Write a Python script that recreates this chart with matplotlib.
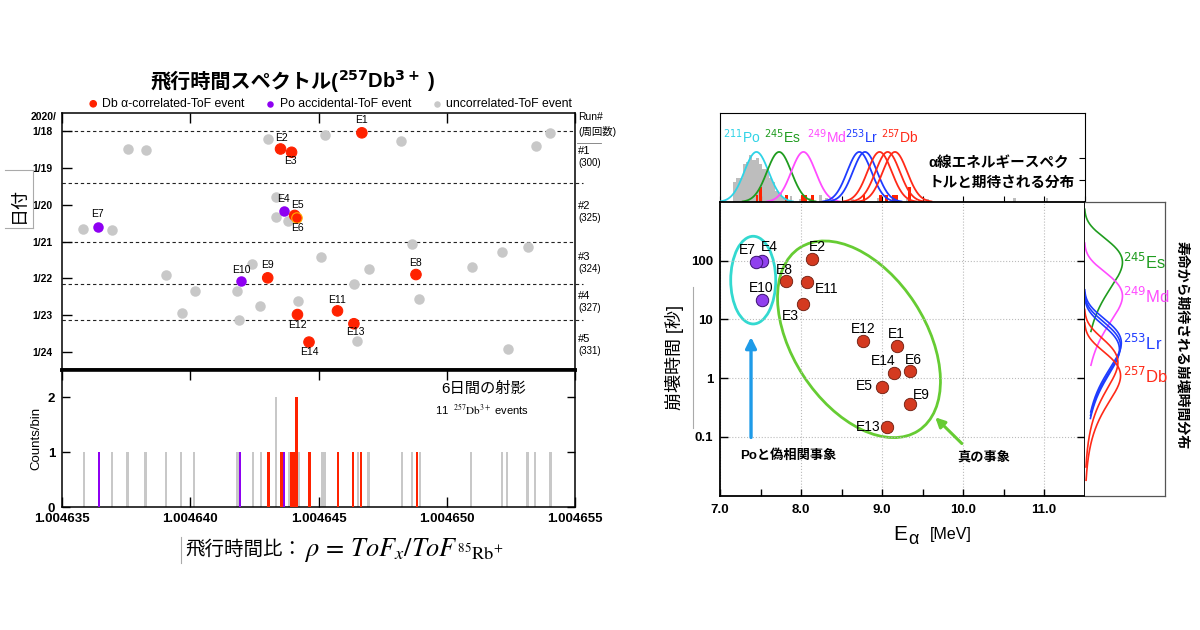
import numpy as np
import matplotlib.pyplot as plt
from matplotlib.patches import Ellipse
from matplotlib.lines import Line2D
from matplotlib.transforms import ScaledTranslation
from matplotlib.ticker import NullLocator

plt.rcParams['font.family'] = ['Liberation Sans', 'Noto Sans CJK JP', 'DejaVu Sans']
plt.rcParams['mathtext.fontset'] = 'dejavusans'

# ---------- left: flight-time ratio vs. date (days after 2020/1/18) ----------
db_names = ['E1', 'E2', 'E3', 'E5', 'E6', 'E8', 'E9', 'E11', 'E12', 'E13', 'E14']
db_rho = [1.00464669, 1.00464352, 1.00464395, 1.00464407, 1.00464416, 1.00464880,
          1.00464302, 1.00464574, 1.00464418, 1.00464638, 1.00464463]
db_day = [0.04, 0.48, 0.57, 2.29, 2.36, 3.90, 3.99, 4.89, 4.99, 5.24, 5.74]

po_names = ['E4', 'E7', 'E10']
po_rho = [1.00464365, 1.00463640, 1.00464198]
po_day = [2.17, 2.60, 4.08]

bg_rho = [1.00464302, 1.00464526, 1.00464823, 1.00465403, 1.00465347, 1.00463756,
          1.00463827, 1.00464333, 1.00464336, 1.00464383, 1.00463581, 1.00463695,
          1.00464865, 1.00465217, 1.00465318, 1.00464511, 1.00464241, 1.00463906,
          1.00464698, 1.00465099, 1.00464638, 1.00464018, 1.00464183, 1.00464893,
          1.00464422, 1.00464273, 1.00463968, 1.00464192, 1.00464650, 1.00465237]
bg_day = [0.20, 0.09, 0.27, 0.04, 0.41, 0.48,
          0.52, 1.78, 2.32, 2.43, 2.66, 2.69,
          3.07, 3.28, 3.14, 3.42, 3.60, 3.92,
          3.76, 3.69, 4.17, 4.36, 4.36, 4.56,
          4.63, 4.76, 4.96, 5.14, 5.72, 5.92]

date_labels = ['1/18', '1/19', '1/20', '1/21', '1/22', '1/23', '1/24']
run_start = [0.0, 1.41, 3.0, 4.16, 5.13]
run_end = [1.41, 3.0, 4.16, 5.13, 6.5]
run_ids = ['#1', '#2', '#3', '#4', '#5']
run_laps = ['(300)', '(325)', '(324)', '(327)', '(331)']
rho_ticks = [1.004635, 1.004640, 1.004645, 1.004650, 1.004655]
rho_bin = 1e-7

# ---------- right: alpha energy vs. decay time ----------
r_db_E = [9.18, 8.14, 8.02, 9.00, 9.35, 7.81, 9.34, 8.075, 8.765, 9.06, 9.15]
r_db_t = [3.6, 106, 18.4, 0.71, 1.31, 44.5, 0.37, 43.9, 4.3, 0.149, 1.23]
r_po_E = [7.515, 7.444, 7.515]
r_po_t = [99, 94, 21.1]

po_bin_left = [7.16, 7.20, 7.24, 7.28, 7.32, 7.36, 7.40, 7.44,
               7.48, 7.52, 7.56, 7.60, 7.64, 7.68, 7.72, 7.76]
po_bin_count = [0.9, 1.1, 1.1, 1.7, 1.8, 2.1, 1.9, 2.0,
                1.7, 1.5, 1.5, 1.1, 0.9, 0.5, 0.4, 0.2]
bg_alpha_E = [7.86, 7.98, 8.10, 8.22, 8.30, 8.38, 8.62, 8.94, 9.30, 9.54, 10.62, 11.02]
bg_alpha_h = [0.25, 0.15, 0.2, 0.3, 0.2, 0.15, 0.15, 0.2, 0.15, 0.15, 0.2, 0.2]

nuclides = ['Po', 'Es', 'Md', 'Lr', 'Db']
nuc_text = {'Po': r'$^{211}$Po', 'Es': r'$^{245}$Es', 'Md': r'$^{249}$Md',
            'Lr': r'$^{253}$Lr', 'Db': r'$^{257}$Db'}
alpha_lines = {'Po': [7.45], 'Es': [7.73], 'Md': [8.03], 'Lr': [8.72, 8.79],
               'Db': [8.97, 9.07, 9.16]}
alpha_label_E = {'Po': 7.04, 'Es': 7.54, 'Md': 8.08, 'Lr': 8.54, 'Db': 8.985}
life_tau = {'Es': [94], 'Md': [25], 'Lr': [4.0, 3.5, 3.1], 'Db': [1.85, 1.1]}
life_amp = {'Es': [1.0], 'Md': [1.0], 'Lr': [0.97, 0.95, 0.92], 'Db': [0.88, 0.95]}

c_red = '#ff2200'
c_purple = '#8e00f2'
c_gray = '#c8c8c8'
nuc_color = {'Po': '#2fd3e6', 'Es': '#1f9c1f', 'Md': '#ff4cff', 'Lr': '#1f3cff', 'Db': '#ff2a18'}


def box(x0, y0, x1, y1):
    return [x0 / 1200, 1 - y1 / 630, (x1 - x0) / 1200, (y1 - y0) / 630]


def fxy(x, y):
    return x / 1200, 1 - y / 630


fig = plt.figure(figsize=(12, 6.3), dpi=100)

# ================= left scatter =================
ax1 = fig.add_axes(box(62, 113, 575, 370))
s1 = ax1.scatter(bg_rho, bg_day, s=57, color=c_gray, lw=0, zorder=3,
                 label='uncorrelated-ToF event')
s2 = ax1.scatter(po_rho, po_day, s=57, color=c_purple, lw=0, zorder=4,
                 label='Po accidental-ToF event')
edge = ['#ffaa00' if n == 'E6' else c_red for n in db_names]
s3 = ax1.scatter(db_rho, db_day, s=57, color=c_red, edgecolors=edge, lw=0.8, zorder=5,
                 label='Db α-correlated-ToF event')

left_off = {'E1': (0, 9), 'E2': (1, 8), 'E3': (-1, -6.5), 'E4': (0, 8.4), 'E5': (2, 7.4),
            'E6': (0, -7), 'E7': (0, 9), 'E8': (0, 8), 'E9': (0, 9), 'E10': (0, 8),
            'E11': (0, 8), 'E12': (0, -7.7), 'E13': (1, -5.8), 'E14': (0, -7.2)}
for n, x, y in zip(db_names + po_names, db_rho + po_rho, db_day + po_day):
    ax1.annotate(n, (x, y), xytext=left_off[n], textcoords='offset points',
                 ha='center', va='center', fontsize=7.5, zorder=6)

for b in run_start:
    xm = 1.0 if float(b).is_integer() else 1.016
    ax1.axhline(b, xmin=0, xmax=xm, color='#222222', ls=(0, (3, 2.5)), lw=0.8,
                clip_on=False, zorder=1)
for a, b, rid, lap in zip(run_start, run_end, run_ids, run_laps):
    m = (a + b) / 2
    ax1.text(1.006, m - 0.17, rid, transform=ax1.get_yaxis_transform(), fontsize=8,
             va='center', ha='left')
    ax1.text(1.006, m + 0.16, lap, transform=ax1.get_yaxis_transform(), fontsize=7,
             va='center', ha='left')
ax1.text(1.006, -0.38, 'Run#', transform=ax1.get_yaxis_transform(), fontsize=7.5,
         va='center', ha='left')
ax1.text(1.006, 0.0, '(周回数)', transform=ax1.get_yaxis_transform(), fontsize=7.5,
         va='center', ha='left')
ax1.plot([1.004, 1.05], [0.32, 0.32], transform=ax1.get_yaxis_transform(),
         color='#777777', lw=0.6, clip_on=False)

ax1.set_xlim(rho_ticks[0], rho_ticks[-1])
ax1.set_ylim(6.5, -0.5)
ax1.set_yticks(range(len(date_labels)), date_labels)
ax1.set_xticks(rho_ticks)
ax1.tick_params(axis='x', top=True, bottom=False, labelbottom=False, direction='in',
                length=7, width=1)
ax1.tick_params(axis='y', direction='in', length=7, width=1, pad=6.5)
for lab in ax1.get_yticklabels():
    lab.set_fontsize(7.5)
    lab.set_fontweight('bold')
for sp in ax1.spines.values():
    sp.set_linewidth(1.1)
ax1.spines['bottom'].set_linewidth(2.6)
fig.text(*fxy(44, 117), '2020/', ha='center', va='center', fontsize=7.5, fontweight='bold')

# title: CJK part as plain text, isotope part as mathtext
fig.text(*fxy(338, 81), '飛行時間スペクトル(', ha='right', va='center', fontsize=14.5,
         fontweight='bold')
fig.text(*fxy(338, 81), r'$\mathbf{^{257}}$Db$\mathbf{^{3+}}$ )', ha='left', va='center',
         fontsize=14.5, fontweight='bold')
fig.legend(handles=[s3, s2, s1], loc='center', bbox_to_anchor=fxy(330, 104), ncol=3,
           frameon=False, fontsize=8.8, markerscale=0.62, handlelength=0.8,
           handletextpad=0.35, columnspacing=1.7, borderaxespad=0, borderpad=0)

fig.text(*fxy(19, 205), '日付', rotation=90, ha='center', va='center', fontsize=13)
for seg in [((5, 33), (170, 170)), ((5, 33), (228, 228)), ((33, 33), (170, 228))]:
    fig.add_artist(Line2D([v / 1200 for v in seg[0]], [1 - v / 630 for v in seg[1]],
                          color='#aaaaaa', lw=0.8))

# ================= left histogram =================
ax2 = fig.add_axes(box(62, 370, 575, 507))
edges = rho_ticks[0] + np.arange(201) * rho_bin
ax2.hist(bg_rho, bins=edges, color=c_gray, rwidth=0.95, zorder=2)
ax2.hist(po_rho, bins=edges, color=c_purple, rwidth=0.95, zorder=3)
ax2.hist(db_rho, bins=edges, color=c_red, rwidth=0.95, zorder=4)
ax2.set_xlim(rho_ticks[0], rho_ticks[-1])
ax2.set_ylim(0, 2.5)
ax2.set_yticks([0, 1, 2], ['0', '1', '2'])
ax2.set_xticks(rho_ticks, ['%.6f' % v for v in rho_ticks])
ax2.tick_params(axis='x', top=True, direction='in', length=7, width=1, pad=4)
ax2.tick_params(axis='y', right=True, direction='in', length=6, width=1, pad=5)
for lab in ax2.get_xticklabels() + ax2.get_yticklabels():
    lab.set_fontsize(9.5)
    lab.set_fontweight('bold')
for sp in ax2.spines.values():
    sp.set_linewidth(1.1)
ax2.spines['top'].set_linewidth(2.6)
ax2.set_ylabel('Counts/bin', fontsize=9.5, labelpad=4)
ax2.text(0.905, 0.86, '6日間の射影', transform=ax2.transAxes, ha='right', va='center',
         fontsize=11)
ax2.text(0.91, 0.71, r'11  $^{257}\mathrm{Db}^{3+}$ events', transform=ax2.transAxes,
         ha='right', va='center', fontsize=8, math_fontfamily='stix')
fig.text(*fxy(302, 550), '飛行時間比：', ha='right', va='center', fontsize=14)
fig.text(*fxy(304, 550), r'$\rho\, =\, ToF_{x}/ToF_{\,^{85}\mathrm{Rb}^{+}}$',
         ha='left', va='center', fontsize=19, math_fontfamily='stix')
fig.add_artist(Line2D([180.6 / 1200] * 2, [1 - 537 / 630, 1 - 563 / 630],
                      color='#aaaaaa', lw=0.8))

# ================= right: alpha spectrum =================
ax3 = fig.add_axes(box(720, 113, 1084.5, 202))
ax3.bar(po_bin_left, po_bin_count, width=0.04, align='edge', color='#bdbdbd', lw=0)
ax3.bar(bg_alpha_E, bg_alpha_h, width=0.035, align='edge', color='#bdbdbd', lw=0)
e_edges = np.arange(7.0, 11.52, 0.04)
cnt, _ = np.histogram(r_db_E + r_po_E, bins=e_edges)
ax3.bar(e_edges[:-1], cnt * 0.33, width=0.035, align='edge', color=c_red, lw=0, zorder=3)
for nuc in nuclides:
    for c in alpha_lines[nuc]:
        xg = np.linspace(c - 0.45, c + 0.45, 200)
        ax3.plot(xg, 2.25 * np.exp(-0.5 * ((xg - c) / 0.15) ** 2), color=nuc_color[nuc],
                 lw=1.3, zorder=4)
    ax3.text(alpha_label_E[nuc], 2.93, nuc_text[nuc], color=nuc_color[nuc], fontsize=10,
             ha='left', va='center')
ax3.text(0.571, 0.445, 'α線エネルギースペク', transform=ax3.transAxes, fontsize=10.5,
         fontweight='bold', va='center')
ax3.text(0.571, 0.22, 'トルと期待される分布', transform=ax3.transAxes, fontsize=10.5,
         fontweight='bold', va='center')
ax3.set_xlim(7.0, 11.5)
ax3.set_ylim(0, 4)
ax3.set_xticks(np.arange(7.0, 11.51, 0.5))
ax3.set_yticks([1, 2])
ax3.tick_params(labelbottom=False, labelleft=False, left=False, right=True,
                direction='in', length=4)

# ================= right: energy vs decay time =================
ax4 = fig.add_axes(box(720, 202, 1084.5, 495.7))
ax4.set_yscale('log')
ax4.scatter(r_db_E, r_db_t, s=80, color='#d43a20', edgecolors='#6a1a0c', lw=0.6, zorder=4)
ax4.scatter(r_po_E, r_po_t, s=80, color='#9040ee', edgecolors='#3a1070', lw=0.7, zorder=5)
right_off = {'E1': (0, 8.6), 'E2': (3.6, 8.6), 'E3': (-8.6, -8.6), 'E4': (5.8, 10),
             'E5': (-13, 0.7), 'E6': (2.2, 8), 'E7': (-6.5, 8.6), 'E8': (-0.7, 8),
             'E9': (8.6, 6.5), 'E10': (-0.7, 8.6), 'E11': (14.4, -5), 'E12': (0, 8.6),
             'E13': (-13.7, 0), 'E14': (-8, 8.6)}
for n, x, y in zip(db_names + po_names, r_db_E + r_po_E, r_db_t + r_po_t):
    ax4.annotate(n, (x, y), xytext=right_off[n], textcoords='offset points',
                 ha='center', va='center', fontsize=10, zorder=6)

ax4.add_patch(Ellipse((0, 0), 0.45, 0.877, angle=0, fill=False, ec='#33d9d0', lw=2,
                      transform=fig.dpi_scale_trans + ScaledTranslation(7.41, 46.8, ax4.transData)))
ax4.add_patch(Ellipse((0, 0), 2.18, 1.33, angle=-57, fill=False, ec='#66cc33', lw=2,
                      transform=fig.dpi_scale_trans + ScaledTranslation(8.716, 4.6, ax4.transData)))
ax4.annotate('', xy=(7.383, 5.6), xytext=(7.383, 0.088),
             arrowprops=dict(arrowstyle='-|>', color='#1e9be8', lw=2.4, mutation_scale=16))
ax4.annotate('', xy=(9.633, 0.233), xytext=(10.01, 0.0716),
             arrowprops=dict(arrowstyle='-|>', color='#66cc33', lw=2.2, mutation_scale=14))
ax4.text(7.848, 0.0483, 'Poと偽相関事象', ha='center', va='center', fontsize=9.5,
         fontweight='bold')
ax4.text(10.263, 0.0442, '真の事象', ha='center', va='center', fontsize=9.5,
         fontweight='bold')

ax4.set_xlim(7.0, 11.5)
ax4.set_ylim(0.01, 1000)
ax4.set_xticks([7, 8, 9, 10, 11], ['7.0', '8.0', '9.0', '10.0', '11.0'])
ax4.set_xticks([7.5, 8.5, 9.5, 10.5], minor=True)
ax4.set_yticks([0.1, 1, 10, 100], ['0.1', '1', '10', '100'])
ax4.yaxis.set_minor_locator(NullLocator())
ax4.grid(True, which='major', ls=':', color='#bbbbbb', lw=0.8)
ax4.tick_params(axis='x', which='both', direction='in', length=5, width=1, pad=6)
ax4.tick_params(axis='y', direction='in', right=True, length=6, width=1, pad=5)
for lab in ax4.get_xticklabels() + ax4.get_yticklabels():
    lab.set_fontsize(9.5)
    lab.set_fontweight('bold')
for sp in ax4.spines.values():
    sp.set_linewidth(1.3)
fig.text(*fxy(900, 534), 'E', ha='center', va='center', fontsize=15)
fig.text(*fxy(913, 539), 'α', ha='center', va='center', fontsize=13)
fig.text(*fxy(951, 534), '[MeV]', ha='center', va='center', fontsize=11.5)
fig.text(*fxy(674, 358), '崩壊時間 [秒]', rotation=90, ha='center', va='center', fontsize=13)
fig.add_artist(Line2D([693 / 1200] * 2, [1 - 287 / 630, 1 - 428 / 630],
                      color='#aaaaaa', lw=0.8))

# ================= right: expected decay-time distributions =================
ax5 = fig.add_axes(box(1084.5, 202, 1165, 495.7))
ax5.set_yscale('log')
for nuc in ['Es', 'Md', 'Lr', 'Db']:
    lo = 60 if nuc == 'Db' else 15
    for tau, amp in zip(life_tau[nuc], life_amp[nuc]):
        t = np.logspace(np.log10(tau / lo), np.log10(tau * 8), 300)
        ax5.plot(amp * (t / tau) * np.exp(1 - t / tau), t, color=nuc_color[nuc], lw=1.2)
    ax5.text(1.02, max(life_tau[nuc]) if nuc != 'Db' else life_tau[nuc][-1],
             nuc_text[nuc], color=nuc_color[nuc], fontsize=12, ha='left', va='center')
ax5.set_xlim(0, 2.12)
ax5.set_ylim(0.01, 1000)
ax5.set_xticks([])
ax5.set_yticks([])
ax5.yaxis.set_minor_locator(NullLocator())
for k, sp in ax5.spines.items():
    sp.set_color('#555555')
    sp.set_linewidth(0.9)
ax5.spines['left'].set_visible(False)
fig.text(*fxy(1182, 345), '寿命から期待される崩壊時間分布', rotation=-90, ha='center',
         va='center', fontsize=10, fontweight='bold')

fig.savefig('out.png', dpi=100)
